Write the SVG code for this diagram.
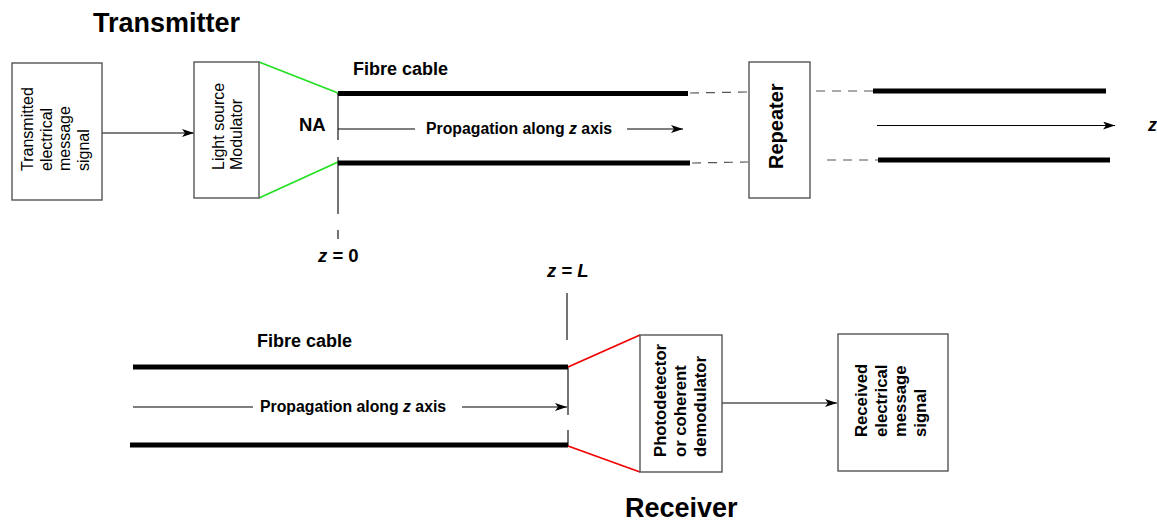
<svg xmlns="http://www.w3.org/2000/svg" width="1157" height="521" viewBox="0 0 1157 521">
<style>
text{font-family:"Liberation Sans",Arial,sans-serif;fill:#000}
.b{font-weight:bold}
.box{fill:#fff;stroke:#555;stroke-width:1.4}
.fib{stroke:#000;stroke-width:5;fill:none}
.dash{stroke:#555;stroke-width:1.2;stroke-dasharray:9,7;fill:none}
.ln{stroke:#000;stroke-width:1.1;fill:none}
.arr{stroke:#000;stroke-width:1.1;fill:none;marker-end:url(#ah)}
.grn{stroke:#22e022;stroke-width:1.8;fill:none}
.red{stroke:#f00000;stroke-width:1.8;fill:none}
</style>
<defs>
<marker id="ah" viewBox="0 0 12 8" refX="12" refY="4" markerWidth="12" markerHeight="8" markerUnits="userSpaceOnUse" orient="auto">
<path d="M0,0 L12,4 L0,8 L3,4 z" fill="#000"/>
</marker>
</defs>
<rect width="1157" height="521" fill="#fff"/>

<text class="b" x="93" y="32" font-size="27">Transmitter</text>
<text class="b" x="625" y="517" font-size="27">Receiver</text>

<g id="connectors">
<line class="arr" x1="102" y1="133" x2="194" y2="133"/>
<line class="grn" x1="259" y1="62" x2="338" y2="93"/>
<line class="grn" x1="259" y1="198" x2="338" y2="162"/>
<line class="ln" x1="338" y1="93" x2="338" y2="140"/>
<line class="ln" x1="338" y1="157" x2="338" y2="214"/>
<line class="ln" x1="338" y1="230" x2="338" y2="239"/>
<line class="fib" x1="338" y1="93.5" x2="688" y2="93.5"/>
<line class="fib" x1="338" y1="163" x2="690" y2="163"/>
<line class="dash" x1="690" y1="93" x2="748" y2="92"/>
<line class="dash" x1="692" y1="163" x2="748" y2="162"/>
<line class="ln" x1="338" y1="129" x2="415" y2="129"/>
<line class="arr" x1="627" y1="129" x2="683" y2="129"/>
<line class="dash" x1="816" y1="91" x2="874" y2="91"/>
<line class="dash" x1="827" y1="160" x2="878" y2="160"/>
<line class="fib" x1="873" y1="91" x2="1106" y2="91"/>
<line class="fib" x1="878" y1="160" x2="1110" y2="160"/>
<line class="arr" x1="877" y1="125.5" x2="1115" y2="125.5"/>

<line class="ln" x1="567" y1="293" x2="567" y2="340"/>
<line class="ln" x1="568" y1="367" x2="568" y2="415"/>
<line class="ln" x1="568" y1="430" x2="568" y2="447"/>
<line class="fib" x1="133" y1="367" x2="568" y2="367"/>
<line class="fib" x1="130" y1="445" x2="568" y2="445"/>
<line class="ln" x1="133" y1="407" x2="253" y2="407"/>
<line class="arr" x1="462" y1="407" x2="567" y2="407"/>
<line class="red" x1="568" y1="367" x2="640" y2="335"/>
<line class="red" x1="568" y1="446" x2="640" y2="472"/>
<line class="arr" x1="722" y1="403" x2="837" y2="403"/>
</g>

<g id="tx-signal">
<rect class="box" x="12" y="63" width="90" height="137"/>
<g transform="translate(0,171) rotate(-90)" font-size="16">
<text x="0" y="33">Transmitted</text>
<text x="0" y="51.5">electrical</text>
<text x="0" y="70">message</text>
<text x="0" y="88.5">signal</text>
</g>
</g>

<g id="modulator">
<rect class="box" x="194" y="62" width="65" height="136"/>
<g transform="translate(0,170) rotate(-90)" font-size="16">
<text x="0" y="223.5">Light source</text>
<text x="0" y="242">Modulator</text>
</g>
</g>

<g id="repeater">
<rect class="box" x="749" y="62" width="61" height="136"/>
<text class="b" transform="translate(783,169) rotate(-90)" x="0" y="0" font-size="20">Repeater</text>
</g>

<g id="photodetector">
<rect class="box" x="640" y="335" width="82" height="137"/>
<g class="b" transform="translate(0,457) rotate(-90)" font-size="16.7">
<text class="b" x="0" y="666">Photodetector</text>
<text class="b" x="0" y="686">or coherent</text>
<text class="b" x="0" y="706">demodulator</text>
</g>
</g>

<g id="rx-signal">
<rect class="box" x="838" y="334" width="110" height="137"/>
<g transform="translate(0,437) rotate(-90)" font-size="16.7">
<text class="b" x="0" y="867">Received</text>
<text class="b" x="0" y="886.5">electrical</text>
<text class="b" x="0" y="906">message</text>
<text class="b" x="0" y="925.5">signal</text>
</g>
</g>

<g id="labels">
<text class="b" x="353" y="75" font-size="18">Fibre cable</text>
<text class="b" x="299" y="131" font-size="18.5">NA</text>
<text class="b" x="426" y="134" font-size="15.8">Propagation along <tspan font-style="italic">z</tspan> axis</text>
<text class="b" x="1148" y="131" font-size="18" font-style="italic">z</text>
<text class="b" x="318" y="262" font-size="18.5"><tspan font-style="italic">z</tspan> = 0</text>
<text class="b" x="547" y="277" font-size="18.5" font-style="italic">z <tspan font-style="normal">=</tspan> L</text>
<text class="b" x="257" y="347" font-size="18">Fibre cable</text>
<text class="b" x="260" y="412" font-size="15.8">Propagation along <tspan font-style="italic">z</tspan> axis</text>
</g>
</svg>
